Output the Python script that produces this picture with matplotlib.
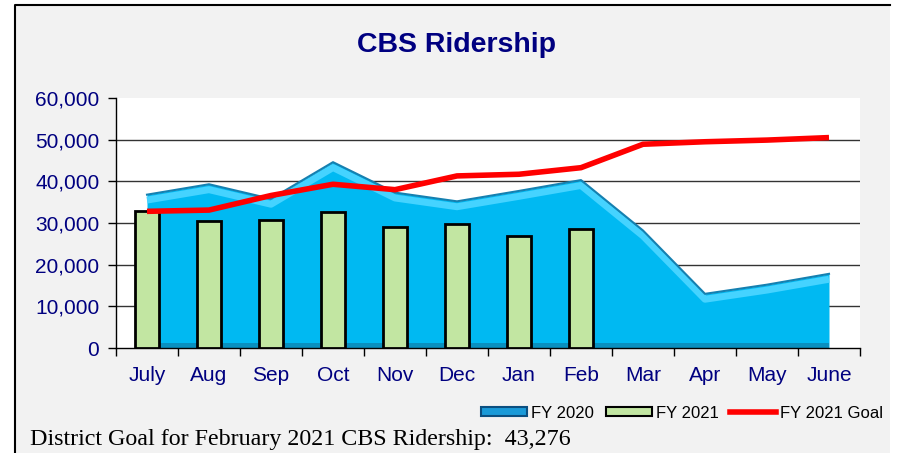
import matplotlib
matplotlib.use("Agg")
import matplotlib.pyplot as plt
from matplotlib.patches import Rectangle, Patch
from matplotlib.lines import Line2D
import numpy as np

months = ["July", "Aug", "Sep", "Oct", "Nov", "Dec", "Jan", "Feb", "Mar", "Apr", "May", "June"]
fy2020 = [36800, 39300, 35800, 44600, 37300, 35200, 37700, 40300, 28200, 13000, 15200, 17800]
fy2021 = [32800, 30400, 30700, 32600, 29100, 29800, 26800, 28600]
goal = [32800, 33100, 36600, 39300, 38000, 41300, 41700, 43276, 48900, 49500, 49900, 50500]
yticks = [0, 10000, 20000, 30000, 40000, 50000, 60000]

navy = "#000080"
plt.rcParams["font.family"] = ["Liberation Sans", "DejaVu Sans"]

fig = plt.figure(figsize=(9.02, 4.53), dpi=100)
fig.patch.set_facecolor("white")

# grey chart panel with black top/left border
W, H = 902, 453
fig.patches.append(Rectangle((15 / W, 0), (890 - 15) / W, 1 - 5 / H,
                             transform=fig.transFigure, facecolor="#f2f2f2",
                             edgecolor="none", zorder=-10))
fig.lines.append(Line2D([15 / W, 15 / W, 890 / W], [0, 1 - 5 / H, 1 - 5 / H],
                        transform=fig.transFigure, color="black", lw=1.5))

ax = fig.add_axes([116 / W, 1 - 348 / H, (860 - 116) / W, (348 - 98) / H])
ax.set_facecolor("white")

x = np.arange(len(months))
xb = np.arange(len(fy2021))
a2020 = np.array(fy2020)

# FY 2020 area with a simple bevel on the top edge
ax.fill_between(x, 0, a2020, color="#00B9F2", zorder=2, linewidth=0)
ax.plot(x, a2020 - 1300, color="#45D3FF", lw=5, zorder=2.1, solid_capstyle="butt")
ax.plot(x, a2020, color="#1580B0", lw=1.5, zorder=2.2)
ax.fill_between(x, 0, 1200, color="#0990C0", zorder=2.05, linewidth=0)

# FY 2021 bars
ax.bar(xb, fy2021, width=0.4, color="#C2E6A2", edgecolor="black", linewidth=2, zorder=3)

# goal line
ax.plot(x, goal, color="#FF0000", lw=4, zorder=4, solid_capstyle="butt")

ax.set_xlim(-0.5, len(months) - 0.5)
ax.set_ylim(0, 60000)
ax.set_yticks(yticks)
ax.set_yticklabels([f"{v:,}" for v in yticks], color=navy, fontsize=15)
ax.set_xticks(x)
ax.set_xticklabels(months, color=navy, fontsize=15)
ax.set_xticks(np.arange(-0.5, len(months)), minor=True)
ax.tick_params(axis="x", which="major", length=0, pad=13)
ax.tick_params(axis="x", which="minor", length=6, width=1, direction="out")
ax.tick_params(axis="y", length=6, width=1, direction="out", pad=6)

for v in yticks[1:-1]:
    ax.axhline(v, color="#333333", lw=1, zorder=1)
for s in ["top", "right"]:
    ax.spines[s].set_visible(False)
ax.spines["left"].set_linewidth(1)
ax.spines["bottom"].set_linewidth(1)

fig.text(457 / W, 1 - 45 / H, "CBS Ridership", ha="center", va="center",
         color=navy, fontsize=20.5, fontweight="bold")

handles = [Patch(facecolor="#1A9AD8", edgecolor="#0B4F80", linewidth=1.5),
           Patch(facecolor="#C2E6A2", edgecolor="black", linewidth=1.5),
           Line2D([0], [0], color="#FF0000", lw=4)]
fig.legend(handles, ["FY 2020", "FY 2021", "FY 2021 Goal"], loc="center right",
           bbox_to_anchor=(890 / W, 1 - 413 / H), ncol=3, frameon=False,
           fontsize=12, handlelength=2.75, handleheight=0.45, handletextpad=0.25,
           columnspacing=0.7, borderaxespad=0)

fig.text(30 / W, 1 - 440 / H, "District Goal for February 2021 CBS Ridership:  43,276",
         ha="left", va="center", fontsize=17.3, family=["Liberation Serif", "DejaVu Serif"],
         color="black")

fig.savefig("out.png", dpi=100)
